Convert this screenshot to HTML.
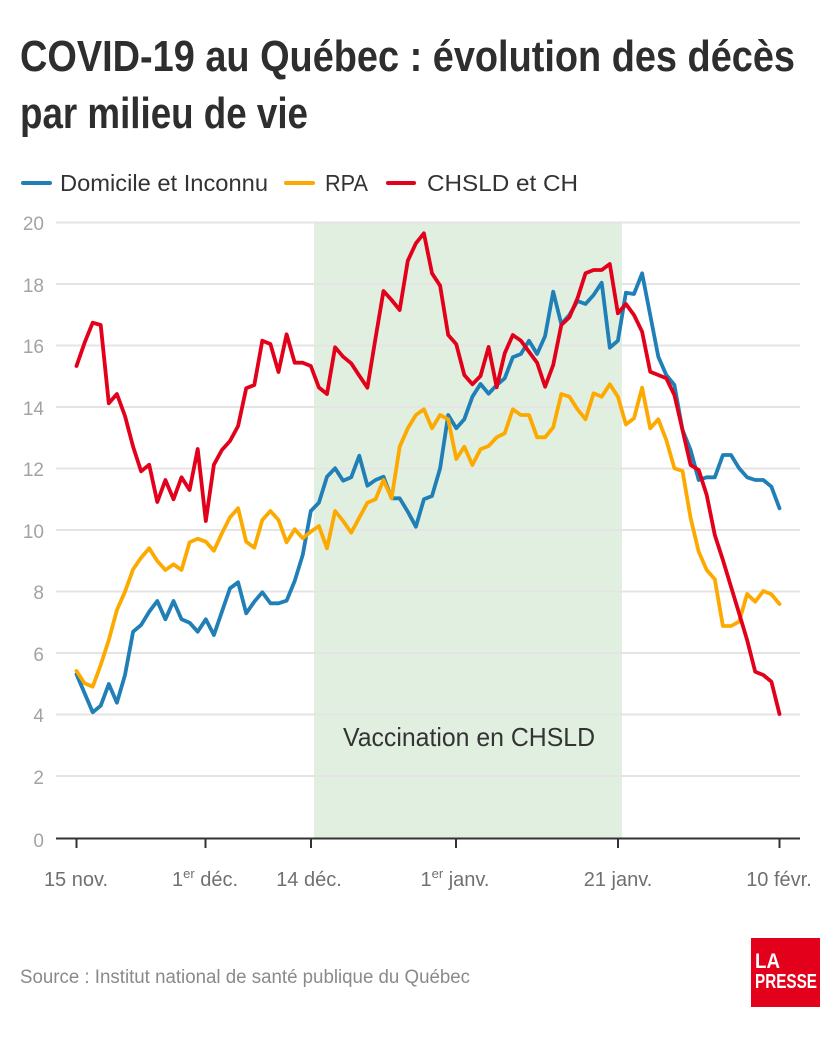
<!DOCTYPE html>
<html>
<head>
<meta charset="utf-8">
<style>
  html,body{margin:0;padding:0;background:#fff;}
  svg{display:block;}
  text{font-family:"Liberation Sans",sans-serif;}
</style>
</head>
<body>
<svg width="840" height="1040" viewBox="0 0 840 1040" xmlns="http://www.w3.org/2000/svg">
  <rect x="0" y="0" width="840" height="1040" fill="#ffffff"/>

  <!-- Title -->
  <text x="20" y="71" font-size="44" font-weight="bold" fill="#2e2e2e" textLength="775" lengthAdjust="spacingAndGlyphs">COVID-19 au Québec : évolution des décès</text>
  <text x="20" y="128" font-size="44" font-weight="bold" fill="#2e2e2e" textLength="288" lengthAdjust="spacingAndGlyphs">par milieu de vie</text>

  <!-- Legend -->
  <line x1="23" y1="183" x2="50" y2="183" stroke="#1f7fb6" stroke-width="4" stroke-linecap="round"/>
  <text x="60" y="191" font-size="23" fill="#333" textLength="208" lengthAdjust="spacingAndGlyphs">Domicile et Inconnu</text>
  <line x1="286" y1="183" x2="313" y2="183" stroke="#fdaa00" stroke-width="4" stroke-linecap="round"/>
  <text x="325" y="191" font-size="23" fill="#333" textLength="43" lengthAdjust="spacingAndGlyphs">RPA</text>
  <line x1="388" y1="183" x2="414" y2="183" stroke="#e2001a" stroke-width="4" stroke-linecap="round"/>
  <text x="427" y="191" font-size="23" fill="#333" textLength="151" lengthAdjust="spacingAndGlyphs">CHSLD et CH</text>

  <!-- Shaded vaccination region -->
  <rect x="314" y="222" width="308" height="616" fill="#e1efe1"/>

  <!-- Gridlines -->
  <g stroke="#e4e4e4" stroke-width="2">
    <line x1="56" y1="222.5" x2="800" y2="222.5"/>
    <line x1="56" y1="284" x2="800" y2="284"/>
    <line x1="56" y1="345.5" x2="800" y2="345.5"/>
    <line x1="56" y1="407" x2="800" y2="407"/>
    <line x1="56" y1="468.5" x2="800" y2="468.5"/>
    <line x1="56" y1="530" x2="800" y2="530"/>
    <line x1="56" y1="591.5" x2="800" y2="591.5"/>
    <line x1="56" y1="653" x2="800" y2="653"/>
    <line x1="56" y1="714.5" x2="800" y2="714.5"/>
    <line x1="56" y1="776" x2="800" y2="776"/>
  </g>

  <!-- Y labels -->
  <g font-size="19" fill="#a3a3a3" text-anchor="end">
    <text x="44" y="230">20</text>
    <text x="44" y="292">18</text>
    <text x="44" y="353">16</text>
    <text x="44" y="415">14</text>
    <text x="44" y="476">12</text>
    <text x="44" y="538">10</text>
    <text x="44" y="599">8</text>
    <text x="44" y="661">6</text>
    <text x="44" y="722">4</text>
    <text x="44" y="784">2</text>
    <text x="44" y="847">0</text>
  </g>

  <!-- Vaccination label -->
  <text x="343" y="746" font-size="26" fill="#333" textLength="252" lengthAdjust="spacingAndGlyphs">Vaccination en CHSLD</text>

  <!-- Axis -->
  <line x1="56" y1="838.5" x2="800" y2="838.5" stroke="#333" stroke-width="2"/>
  <g stroke="#333" stroke-width="2">
    <line x1="76.5" y1="838" x2="76.5" y2="848"/>
    <line x1="205.5" y1="838" x2="205.5" y2="848"/>
    <line x1="311" y1="838" x2="311" y2="848"/>
    <line x1="456" y1="838" x2="456" y2="848"/>
    <line x1="618" y1="838" x2="618" y2="848"/>
    <line x1="779.5" y1="838" x2="779.5" y2="848"/>
  </g>

  <!-- X labels -->
  <g font-size="20" fill="#707070" text-anchor="middle">
    <text x="76" y="886">15 nov.</text>
    <text x="205" y="886">1<tspan font-size="13" dy="-8">er</tspan><tspan dy="8"> déc.</tspan></text>
    <text x="309" y="886">14 déc.</text>
    <text x="455" y="886">1<tspan font-size="13" dy="-8">er</tspan><tspan dy="8"> janv.</tspan></text>
    <text x="618" y="886">21 janv.</text>
    <text x="779" y="886">10 févr.</text>
  </g>

  <!-- Series -->
  <g fill="none" stroke-width="3.8" stroke-linejoin="round" stroke-linecap="round">
    <polyline stroke="#1f7fb6" points="76.5,674.3 84.6,693.3 92.7,712.3 100.7,705.7 108.8,684 116.9,702.7 125,675 133.1,631.7 141.1,625 149.2,611.7 157.3,601 165.4,619.3 173.5,601 181.5,619.3 189.6,622.7 197.7,631.7 205.8,619.3 213.9,635 221.9,611.7 230,588.3 238.1,582.3 246.2,613.3 254.3,601.7 262.3,592.3 270.4,603.3 278.5,603.3 286.6,600.7 294.7,581 302.7,555 310.8,511 318.9,502.7 327,476.7 335.1,468.3 343.1,480.7 351.2,477.3 359.3,455.7 367.4,485.7 375.5,480 383.5,476.7 391.6,498.3 399.7,498.3 407.8,511.7 415.9,526.7 423.9,499.3 432,496 440.1,468.3 448.2,415 456.3,428.3 464.3,419.3 472.4,396.7 480.5,384 488.6,393.7 496.7,385 504.7,378.3 512.8,357.3 520.9,354 529,340.7 537.1,354 545.1,336 553.2,291.7 561.3,324 569.4,315 577.5,301 585.5,304 593.6,295 601.7,282.7 609.8,347.7 617.9,340.7 625.9,292.7 634,294 642.1,273.3 650.2,315 658.3,356.7 666.3,375 674.4,385 682.5,430 690.6,450 698.7,480 706.7,477.3 714.8,477.3 722.9,455 731,455 739.1,468.3 747.1,477.3 755.2,480 763.3,480 771.4,486.7 779.5,508.3"/>
    <polyline stroke="#fdaa00" points="76.5,671 84.6,683.3 92.7,686.7 100.7,665 108.8,640 116.9,610 125,591.7 133.1,569.3 141.1,557.7 149.2,548.3 157.3,561 165.4,570 173.5,564.3 181.5,570 189.6,542.3 197.7,538.7 205.8,541.7 213.9,550.7 221.9,533.3 230,517.3 238.1,508.3 246.2,541.7 254.3,547.7 262.3,520 270.4,511 278.5,520 286.6,542.3 294.7,529.3 302.7,538.3 310.8,531.7 318.9,526 327,548.3 335.1,511 343.1,521 351.2,532.7 359.3,517.7 367.4,502.7 375.5,499.3 383.5,480 391.6,498.3 399.7,446.7 407.8,428.3 415.9,415 423.9,409.3 432,428.3 440.1,415 448.2,419.3 456.3,459 464.3,446.7 472.4,465 480.5,449.3 488.6,446 496.7,437.3 504.7,433.3 512.8,409.3 520.9,415 529,415 537.1,437.3 545.1,437.3 553.2,427.3 561.3,394 569.4,396.7 577.5,409.3 585.5,419.3 593.6,393.3 601.7,396.7 609.8,384.3 617.9,396.7 625.9,424.5 634,418.3 642.1,387.7 650.2,428.3 658.3,419.3 666.3,440 674.4,468.3 682.5,471 690.6,518 698.7,551.7 706.7,570 714.8,579.3 722.9,626 731,626 739.1,621.7 747.1,594 755.2,601.7 763.3,591 771.4,594.3 779.5,604"/>
    <polyline stroke="#e2001a" points="76.5,366 84.6,342.7 92.7,322.7 100.7,325 108.8,403.3 116.9,394 125,416 133.1,446.7 141.1,471.3 149.2,464.7 157.3,502 165.4,480 173.5,499.3 181.5,477.3 189.6,490 197.7,449 205.8,521 213.9,464.7 221.9,450 230,441 238.1,426 246.2,388.3 254.3,385 262.3,340.7 270.4,344 278.5,372 286.6,334.3 294.7,362.7 302.7,362.7 310.8,366 318.9,387.5 327,394 335.1,347.3 343.1,356.7 351.2,363.3 359.3,375.7 367.4,387.7 375.5,338.3 383.5,291 391.6,300 399.7,310 407.8,260.7 415.9,243.3 423.9,233.3 432,273.3 440.1,285.7 448.2,335 456.3,344.3 464.3,375 472.4,384.3 480.5,376 488.6,347 496.7,387.3 504.7,353.3 512.8,335 520.9,340.7 529,351.7 537.1,362.7 545.1,386.7 553.2,365 561.3,325 569.4,317.3 577.5,298.3 585.5,273.3 593.6,270 601.7,270 609.8,264 617.9,313.3 625.9,304 634,315 642.1,331.7 650.2,371.7 658.3,375 666.3,378.3 674.4,395 682.5,430 690.6,465 698.7,470 706.7,495 714.8,535 722.9,560 731,586.7 739.1,613.3 747.1,640 755.2,671.7 763.3,675 771.4,681.7 779.5,714"/>
  </g>

  <!-- Source -->
  <text x="20" y="983" font-size="19" fill="#8a8a8a" textLength="450" lengthAdjust="spacingAndGlyphs">Source : Institut national de santé publique du Québec</text>

  <!-- Logo -->
  <rect x="751" y="938" width="69" height="69" fill="#e2001a"/>
  <text x="755" y="968" font-size="21" font-weight="bold" fill="#fff" textLength="25" lengthAdjust="spacingAndGlyphs">LA</text>
  <text x="755" y="988" font-size="20" font-weight="bold" fill="#fff" textLength="62" lengthAdjust="spacingAndGlyphs">PRESSE</text>
</svg>
</body>
</html>
